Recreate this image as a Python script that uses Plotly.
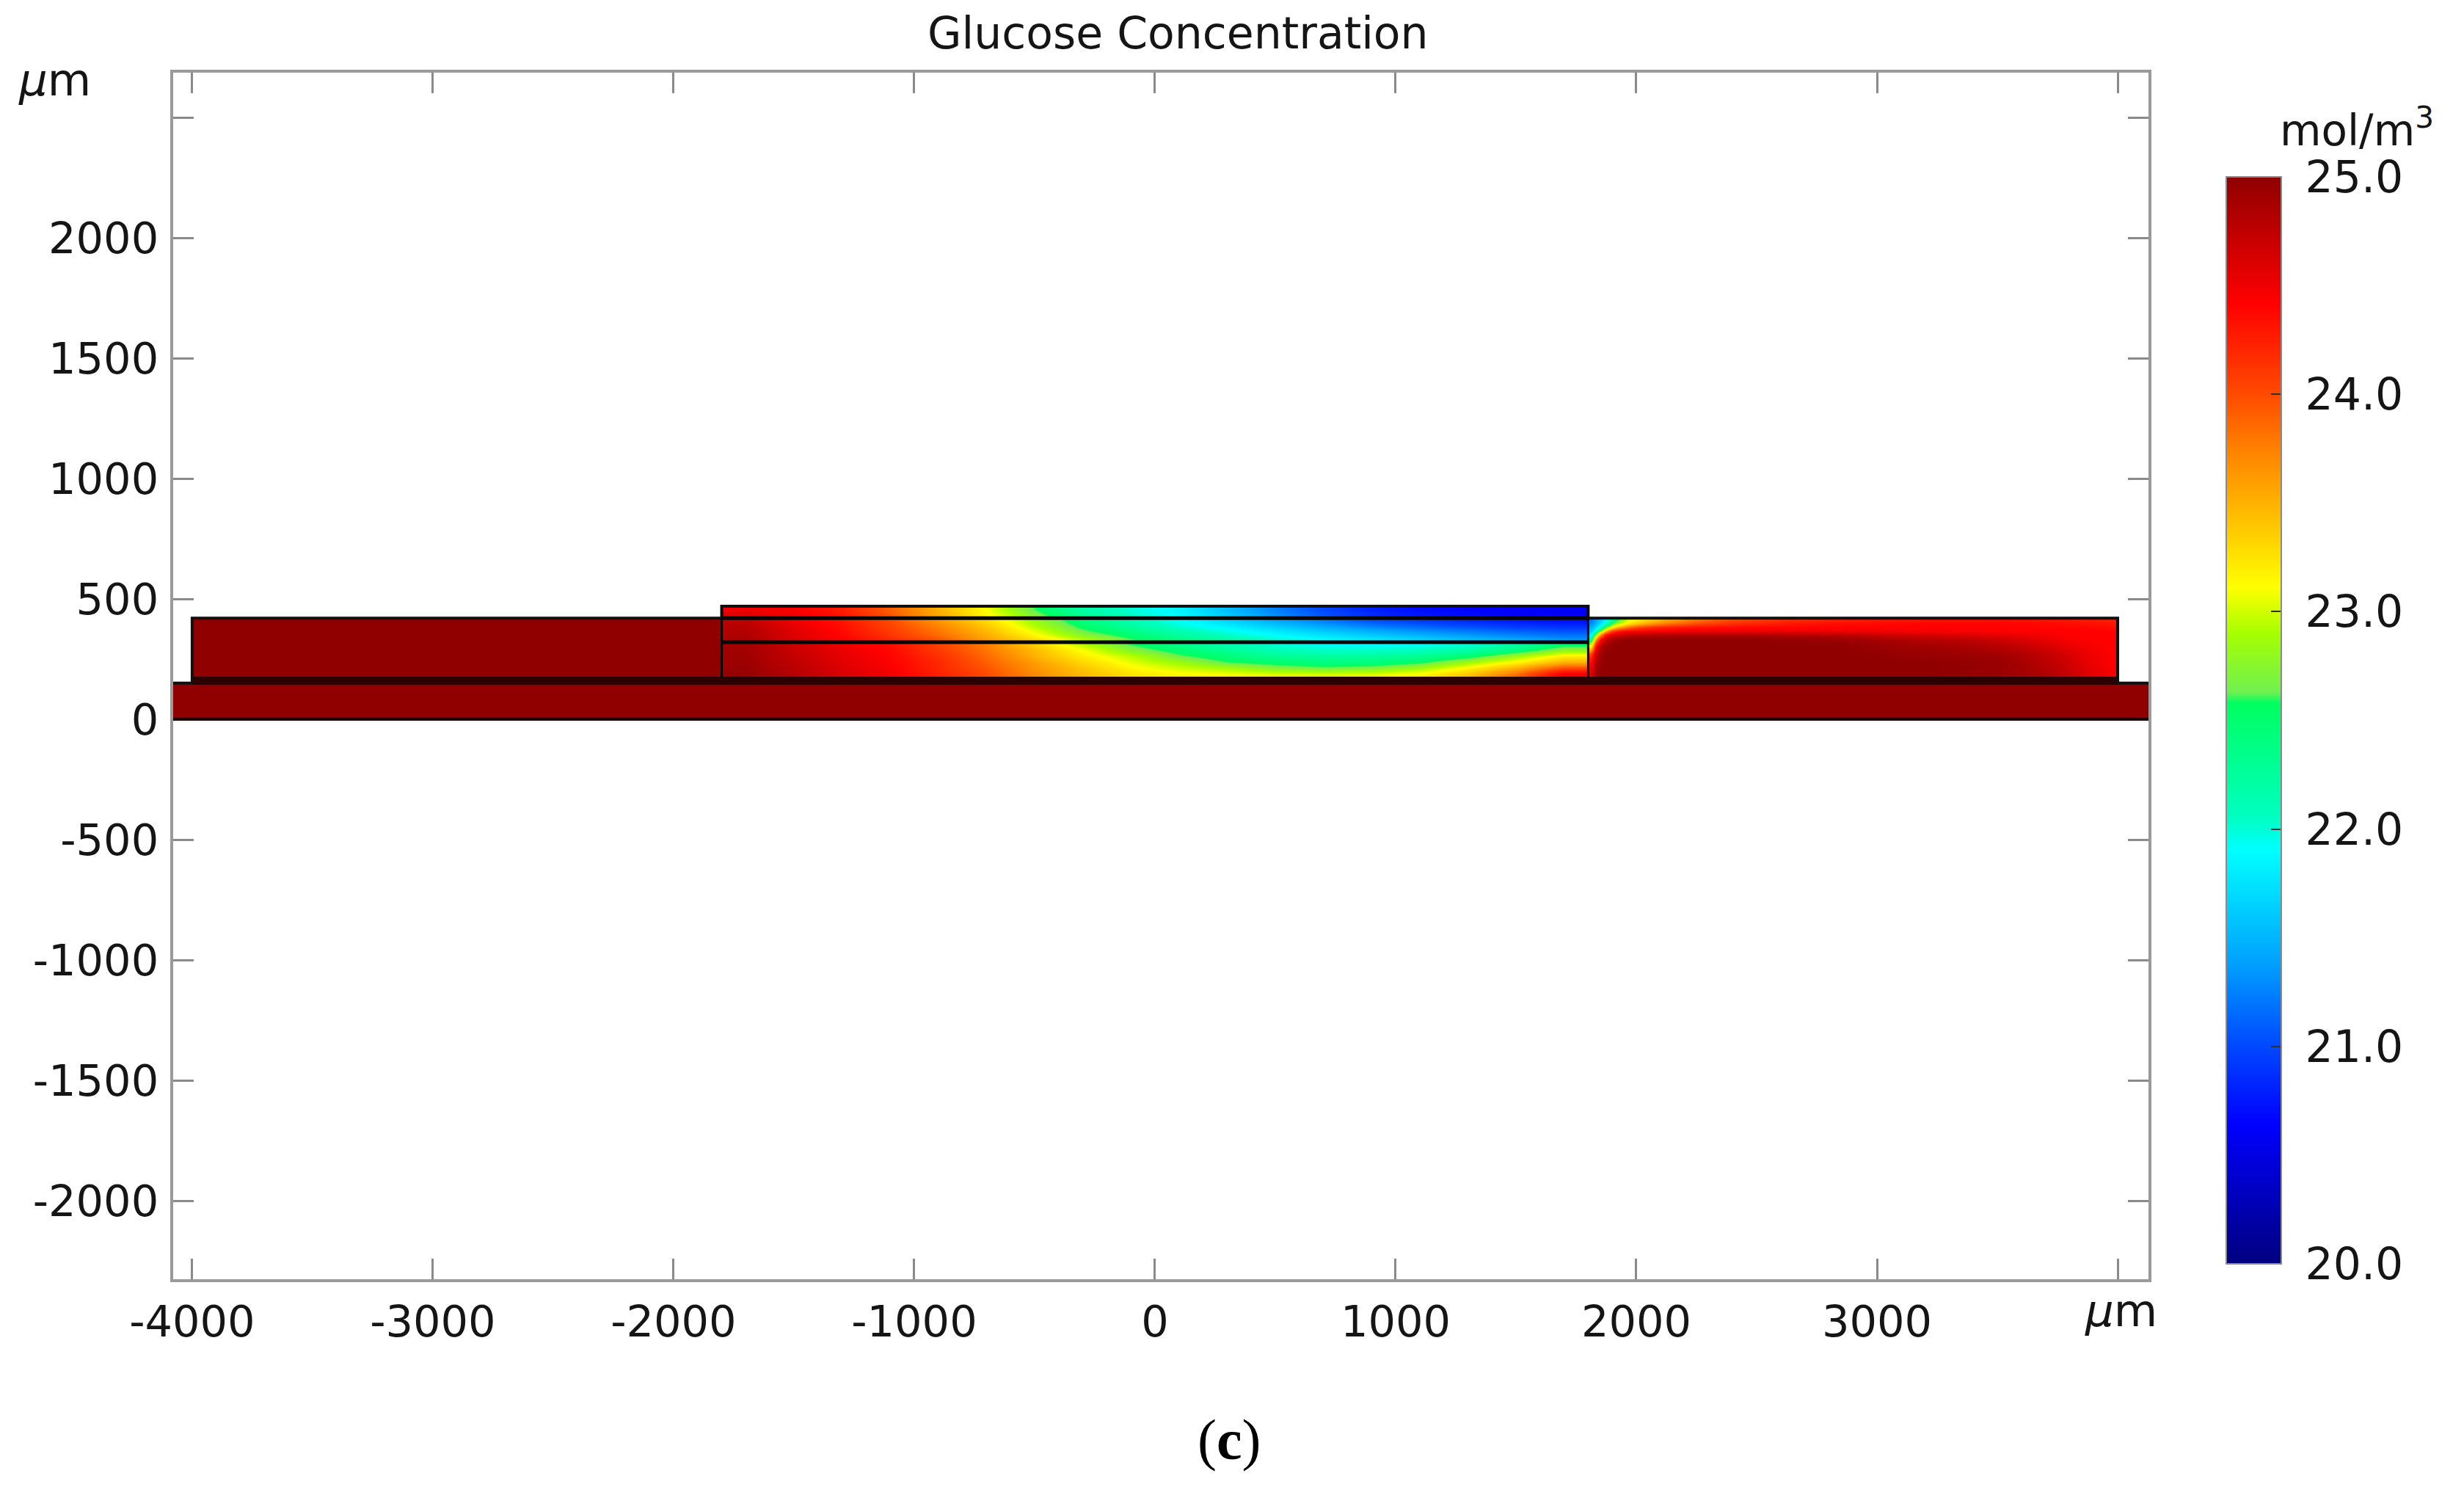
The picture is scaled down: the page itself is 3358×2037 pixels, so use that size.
import plotly.graph_objects as go

# colour scale
cmap_values = [20.0, 20.64, 21.0, 21.38, 21.9, 22.06, 22.58, 22.63, 22.9, 23.11, 23.75, 24.0, 24.42, 25.0]
cmap_colors = ['#000080', '#0000ff', '#0048ff', '#00a0ff', '#00ffff', '#00ffc0', '#00ff60',
               '#70f050', '#a5ff00', '#ffff00', '#ff8000', '#ff4a00', '#ff0000', '#900000']
cbar_ticks = [20, 21, 22, 23, 24, 25]

x_ticks = [-4000, -3000, -2000, -1000, 0, 1000, 2000, 3000]
x_labels = ['-4000', '-3000', '-2000', '-1000', '0', '1000', '2000', '3000']
x_unlabelled = [4000]
y_ticks = [-2000, -1500, -1000, -500, 0, 500, 1000, 1500, 2000]
y_labels = ['-2000', '-1500', '-1000', '-500', '0', '500', '1000', '1500', '2000']
y_unlabelled = [2500]

# flat regions, all at the inlet concentration
slab_x = [-4085, 0, 4134]
slab_y = [0, 75, 150]
slab_z = [[25, 25], [25, 25]]
left_x = [-4000, -3000, -1800]
left_y = [170, 300, 420]
left_z = [[25, 25], [25, 25]]

# centre column, same x cells in all three layers
centre_x = [-1800, -1600, -1400, -1200, -1000, -800, -600, -400, -200, 0,
            200, 400, 600, 800, 1000, 1200, 1400, 1600, 1800]

lower_y = [170, 200, 225, 250, 275, 300, 320]
lower_z = [
    [24.97, 24.8, 24.62, 24.47, 24.25, 24.0, 23.7, 23.45, 23.25, 23.15, 23.1, 23.05, 23.03, 23.05, 23.15, 23.4, 23.85, 24.5],
    [24.95, 24.78, 24.6, 24.45, 24.2, 23.95, 23.65, 23.4, 23.15, 23.0, 22.88, 22.72, 22.65, 22.7, 22.85, 23.15, 23.5, 24.0],
    [24.93, 24.75, 24.57, 24.42, 24.2, 23.9, 23.6, 23.3, 23.05, 22.85, 22.6, 22.5, 22.42, 22.42, 22.55, 22.85, 23.15, 23.5],
    [24.92, 24.72, 24.55, 24.4, 24.15, 23.85, 23.5, 23.2, 22.95, 22.65, 22.45, 22.3, 22.25, 22.25, 22.3, 22.5, 22.85, 23.2],
    [24.9, 24.7, 24.52, 24.38, 24.1, 23.8, 23.45, 23.1, 22.75, 22.5, 22.3, 22.12, 22.05, 22.03, 22.08, 22.2, 22.45, 22.8],
    [24.9, 24.7, 24.5, 24.35, 24.05, 23.75, 23.35, 22.95, 22.6, 22.35, 22.15, 22.0, 21.92, 21.9, 21.92, 22.0, 22.2, 22.5],
]

middle_y = [320, 345, 370, 395, 420]
middle_z = [
    [24.85, 24.62, 24.42, 24.2, 23.95, 23.6, 23.28, 22.95, 22.62, 22.4, 22.2, 22.02, 21.9, 21.8, 21.68, 21.55, 21.45, 21.35],
    [24.83, 24.58, 24.38, 24.1, 23.82, 23.5, 23.1, 22.7, 22.45, 22.2, 22.0, 21.85, 21.7, 21.55, 21.42, 21.3, 21.2, 21.12],
    [24.8, 24.55, 24.35, 24.05, 23.75, 23.4, 22.95, 22.55, 22.25, 22.02, 21.85, 21.65, 21.45, 21.28, 21.15, 21.05, 20.95, 20.9],
    [24.75, 24.5, 24.3, 24.0, 23.65, 23.3, 22.85, 22.45, 22.15, 21.92, 21.7, 21.45, 21.25, 21.05, 20.95, 20.85, 20.78, 20.72],
]

upper_y = [420, 445, 470]
upper_z = [
    [24.6, 24.5, 24.3, 23.95, 23.55, 23.15, 22.7, 22.3, 22.05, 21.88, 21.6, 21.3, 21.05, 20.85, 20.75, 20.7, 20.65, 20.62],
    [24.5, 24.45, 24.25, 23.9, 23.5, 23.1, 22.6, 22.2, 22.0, 21.85, 21.55, 21.25, 21.0, 20.8, 20.7, 20.65, 20.6, 20.6],
]

# right block, cells get finer close to the corner by the centre column
right_x = [1800, 1820, 1840, 1860, 1880, 1900, 1940, 1980, 2040, 2120, 2240, 2400, 2640, 3000,
           3400, 3600, 3750, 3850, 3950, 4000]
right_y = [170, 215, 255, 290, 320, 340, 360, 375, 390, 405, 420]
right_z = [
    [24.6, 24.9, 25, 25, 25, 25, 25, 25, 25, 25, 25, 25, 25, 25, 24.95, 24.85, 24.7, 24.55, 24.45],
    [24.4, 24.8, 24.95, 25, 25, 25, 25, 25, 25, 25, 25, 25, 25, 25, 24.95, 24.8, 24.65, 24.5, 24.42],
    [24.0, 24.65, 24.9, 25, 25, 25, 25, 25, 25, 25, 25, 25, 25, 24.95, 24.9, 24.75, 24.6, 24.48, 24.42],
    [23.1, 24.3, 24.75, 24.9, 24.97, 25, 25, 25, 25, 25, 25, 25, 25, 24.9, 24.8, 24.65, 24.52, 24.45, 24.42],
    [22.3, 23.6, 24.4, 24.7, 24.85, 24.95, 25, 25, 25, 25, 25, 25, 24.95, 24.8, 24.68, 24.55, 24.45, 24.42, 24.42],
    [21.85, 22.8, 23.7, 24.3, 24.5, 24.65, 24.75, 24.8, 24.85, 24.85, 24.85, 24.85, 24.8, 24.65, 24.55, 24.48, 24.42, 24.42, 24.42],
    [21.6, 22.0, 22.8, 23.4, 23.9, 24.25, 24.4, 24.42, 24.45, 24.48, 24.5, 24.5, 24.5, 24.45, 24.42, 24.42, 24.42, 24.42, 24.4],
    [21.45, 21.7, 22.0, 22.6, 23.0, 23.5, 23.8, 24.05, 24.2, 24.3, 24.35, 24.4, 24.42, 24.42, 24.42, 24.4, 24.4, 24.38, 24.35],
    [21.3, 21.5, 21.75, 22.0, 22.35, 22.9, 23.2, 23.45, 23.7, 23.9, 24.1, 24.25, 24.35, 24.4, 24.4, 24.38, 24.35, 24.33, 24.3],
    [21.2, 21.4, 21.6, 21.85, 22.1, 22.55, 23.0, 23.2, 23.4, 23.65, 23.9, 24.1, 24.25, 24.33, 24.35, 24.33, 24.3, 24.28, 24.25],
]

# geometry outlines
outline_x = [-4085, -4000, -4000, -1800, -1800, 1800, 1800, 4000, 4000, 4134]
outline_y = [150, 150, 420, 420, 470, 470, 420, 420, 150, 150]
base_x = [-4085, 4134]
base_y = [0, 0]
band_x = [-4000, 4000]
band_y = [160, 160]
layer_x = [-1800, 1800]
layer_tops = [320, 420]
divider_x = [-1800, 1800]
divider_y = [175, 470]

W, H = 3358, 2037
# the axis line sits just outside the plot area
LEFT, RIGHT, TOP, BOTTOM = 236, 2928, 99, 1743
plot_w = RIGHT - LEFT
plot_h = BOTTOM - TOP

vmin, vmax = cmap_values[0], cmap_values[-1]
colorscale = [[(v - vmin) / (vmax - vmin), c] for v, c in zip(cmap_values, cmap_colors)]

fig = go.Figure()

for xs, ys, zs in [(slab_x, slab_y, slab_z), (left_x, left_y, left_z), (centre_x, lower_y, lower_z),
                   (centre_x, middle_y, middle_z), (centre_x, upper_y, upper_z), (right_x, right_y, right_z)]:
    fig.add_trace(go.Heatmap(x=xs, y=ys, z=zs, coloraxis='coloraxis', zsmooth='best', hoverinfo='skip'))

fig.add_trace(go.Scatter(x=band_x, y=band_y, mode='lines', line=dict(color='#2a0000', width=11),
                         showlegend=False))
fig.add_trace(go.Scatter(x=outline_x, y=outline_y, mode='lines', line=dict(color='#101010', width=4),
                         showlegend=False))
fig.add_trace(go.Scatter(x=base_x, y=base_y, mode='lines', line=dict(color='#200000', width=4),
                         showlegend=False))
for y in layer_tops:
    fig.add_trace(go.Scatter(x=layer_x, y=[y, y], mode='lines', line=dict(color='#050505', width=5),
                             showlegend=False))
for x in divider_x:
    fig.add_trace(go.Scatter(x=[x, x], y=divider_y, mode='lines', line=dict(color='#050505', width=3),
                             showlegend=False))

tick_style = dict(ticks='inside', ticklen=28, tickwidth=3, tickcolor='#8a8a8a')
axis_style = dict(showline=True, linecolor='#9a9a9a', linewidth=4, mirror='allticks', showgrid=False,
                  zeroline=False, tickmode='array', layer='below traces',
                  tickfont=dict(family='DejaVu Sans', size=59, color='#151515'), **tick_style)

fig.update_layout(
    width=W, height=H, autosize=False,
    margin=dict(l=LEFT, r=W - RIGHT, t=TOP, b=H - BOTTOM, autoexpand=False),
    paper_bgcolor='white', plot_bgcolor='white', showlegend=False,
    xaxis=dict(range=[-4079, 4128], tickvals=x_ticks, ticktext=x_labels, ticklabelstandoff=3,
               minor=dict(tickmode='array', tickvals=x_unlabelled, **tick_style), **axis_style),
    yaxis=dict(range=[-2326, 2686], tickvals=y_ticks, ticktext=y_labels, ticklabelstandoff=4,
               minor=dict(tickmode='array', tickvals=y_unlabelled, **tick_style), **axis_style),
    coloraxis=dict(
        cmin=vmin, cmax=vmax, colorscale=colorscale,
        colorbar=dict(
            x=(3034 - LEFT) / plot_w, xanchor='left', xpad=0,
            y=(BOTTOM - 241) / plot_h, yanchor='top', ypad=0,
            thickness=75, thicknessmode='pixels', len=1481, lenmode='pixels',
            outlinecolor='#8a8a8a', outlinewidth=2,
            tickmode='array', tickvals=cbar_ticks,
            # colour bars have no label standoff, a leading space pushes the numbers off the bar
            ticktext=[f'\u00a0{v:.1f}' for v in cbar_ticks],
            ticks='inside', ticklen=15, tickwidth=2, tickcolor='#303030',
            tickfont=dict(family='DejaVu Sans', size=60, color='#151515'),
        ),
    ),
)


def note(text, px, py, size=58, family='DejaVu Sans', color='#151515'):
    """Put text centred on a pixel position of the page."""
    fig.add_annotation(text=text, xref='paper', yref='paper', x=(px - LEFT) / plot_w, y=(BOTTOM - py) / plot_h,
                       xanchor='center', yanchor='middle', showarrow=False,
                       font=dict(family=family, size=size, color=color))


note('Glucose Concentration', 1605, 45, size=60)
note('<i>μ</i>m', 74, 108, size=61)
note('<i>μ</i>m', 2890, 1785, size=61)
note('mol/m<sup>3</sup>', 3212, 174)
note('(<b>c</b>)', 1675, 1962, size=78, family='Liberation Serif', color='black')

fig.write_html('out.html', post_script="document.body.style.margin='0';", config={'displayModeBar': False})
